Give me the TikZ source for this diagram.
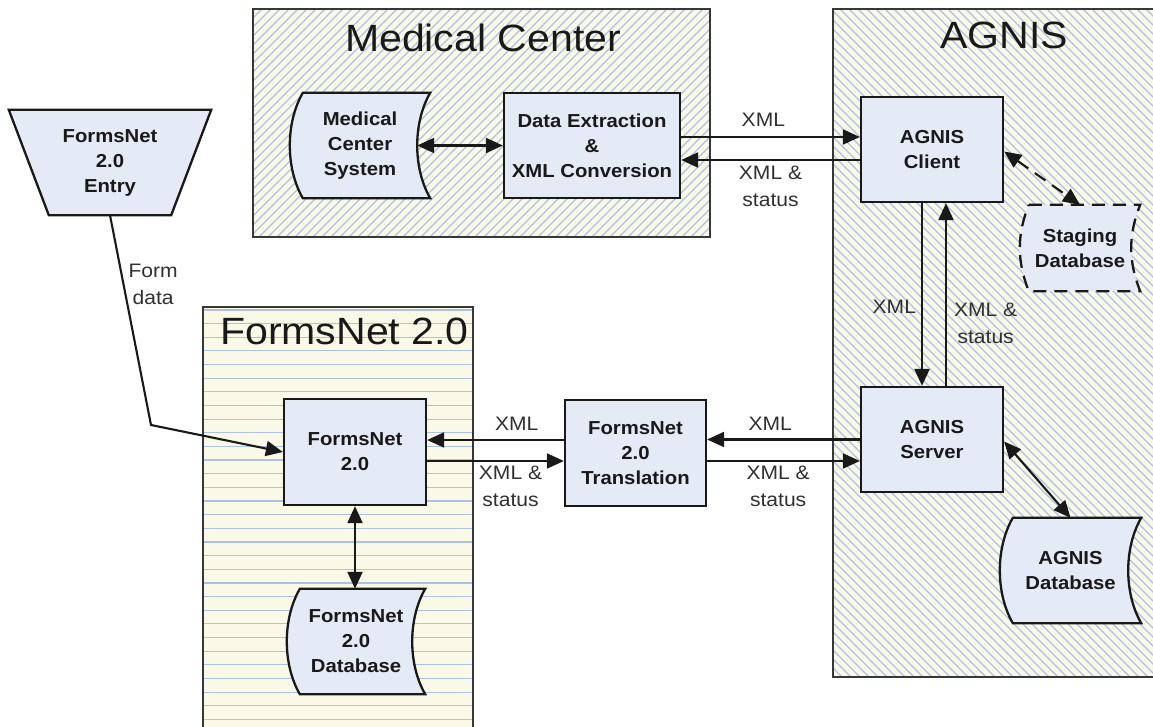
\documentclass[tikz,border=0pt]{standalone}
\usepackage{fontspec}
\setmainfont{Liberation Sans}[FakeStretch=1.08]
\usetikzlibrary{arrows.meta,calc}
\pgfdeclarelayer{back}
\pgfdeclarelayer{mid}
\pgfsetlayers{back,mid,main}
\definecolor{cream}{RGB}{250,249,232}
\definecolor{hatch}{RGB}{172,194,228}
\definecolor{nodefill}{RGB}{228,234,246}
\definecolor{ink}{RGB}{25,25,25}
\definecolor{framecol}{RGB}{55,55,55}
\tikzset{
  box/.style={draw=ink, line width=2.3pt, fill=nodefill, text=ink, font=\bfseries\fontsize{18.8}{25}\selectfont, align=center, inner sep=0pt},
  sdtext/.style={draw=none, text=ink, font=\bfseries\fontsize{18.8}{25}\selectfont, align=center, inner sep=0pt},
  sdline/.style={draw=ink, line width=2.3pt, fill=nodefill},
  conn/.style={draw=ink, line width=2.1pt, -{Triangle[length=17pt,width=15pt]}},
  both/.style={draw=ink, line width=2.1pt, {Triangle[length=17pt,width=15pt]}-{Triangle[length=17pt,width=15pt]}},
  lbl/.style={text=ink!90, font=\fontsize{19.5}{27}\selectfont, align=center, inner sep=0pt},
  ttl/.style={text=ink, font=\fontsize{38}{42}\selectfont, inner sep=0pt},
  frame/.style={draw=framecol, line width=1.4pt},
  hl/.style={draw=hatch, line width=1.2pt},
}
\newcommand\sdshape[3]{%
  \begin{pgfonlayer}{mid}
  \path[sdline,#1] ($(#2.north west)+(#3,0)$) -- (#2.north east)
    .. controls ($(#2.north east)+({-4*#3/3},30)$) and ($(#2.south east)+({-4*#3/3},-30)$) .. (#2.south east)
    -- ($(#2.south west)+(#3,0)$)
    .. controls ($(#2.south west)+({-#3/3},-30)$) and ($(#2.north west)+({-#3/3},30)$) .. cycle;
  \end{pgfonlayer}}
\begin{document}
\begin{tikzpicture}[x=1pt,y=-1pt]
\useasboundingbox (0,0) rectangle (1153,727);
\begin{pgfonlayer}{back}
\fill[white] (0,0) rectangle (1153,727);
% Medical Center container
\fill[cream] (253,9) rectangle (710,237);
\begin{scope}
  \clip (253,9) rectangle (710,237);
  \foreach \k in {0,...,78} \draw[hl] ({25+\k*9},237) -- ++(228,-228);
\end{scope}
\draw[frame] (253,9) rectangle (710,237);
% AGNIS container
\fill[cream] (833,9) rectangle (1153,677);
\begin{scope}
  \clip (833,9) rectangle (1153,677);
  \foreach \k in {0,...,111} \draw[hl] ({165+\k*9},9) -- ++(668,668);
\end{scope}
\draw[frame] (1153,9) -- (833,9) -- (833,677) -- (1153,677);
% FormsNet container
\fill[cream] (203,307) rectangle (473,727);
\begin{scope}
  \clip (203,307) rectangle (473,727);
  \foreach \k in {0,...,31} \draw[hl] (203,{309.9+\k*13.65}) -- (473,{309.9+\k*13.65});
\end{scope}
\draw[frame] (203,727) -- (203,307) -- (473,307) -- (473,727);
\end{pgfonlayer}

% titles
\node[ttl] (tmc) at (483,37.5) {Medical Center};
\node[ttl] (tag) at (1004,35.5) {AGNIS};
\node[ttl, anchor=west] (tfn) at (220,331.5) {FormsNet 2.0};

% nodes
\node[sdtext, minimum width=140pt, minimum height=105pt] (mcs) at (360,145.5) {Medical\\Center\\System};
\node[box, minimum width=176pt, minimum height=105pt] (dx) at (592,145.5) {Data Extraction\\\&\\XML Conversion};
\node[box, minimum width=142pt, minimum height=105pt] (client) at (932,149.5) {AGNIS\\Client};
\node[sdtext, minimum width=120pt, minimum height=86pt] (stag) at (1080,248) {Staging\\Database};
\node[box, minimum width=142pt, minimum height=105pt] (server) at (932,439.5) {AGNIS\\Server};
\node[sdtext, minimum width=141pt, minimum height=105pt] (adb) at (1070.5,570.5) {AGNIS\\Database};
\node[box, minimum width=141pt, minimum height=106pt] (tr) at (635.5,453) {FormsNet\\2.0\\Translation};
\node[box, minimum width=142pt, minimum height=106pt] (fn) at (355,452) {FormsNet\\2.0};
\node[sdtext, minimum width=138pt, minimum height=105pt] (fndb) at (356,641.5) {FormsNet\\2.0\\Database};
\node[sdtext, minimum width=202pt, minimum height=105pt] (entry) at (110,162.5) {FormsNet\\2.0\\Entry};

% shapes behind text
\sdshape{}{mcs}{13}
\sdshape{dashed, dash pattern=on 13pt off 8pt}{stag}{9}
\sdshape{}{adb}{13}
\sdshape{}{fndb}{13}
\begin{pgfonlayer}{mid}
\path[sdline] (entry.north west) -- (entry.north east) -- ($(entry.south east)+(-40,0)$) -- ($(entry.south west)+(40,0)$) -- cycle;
\end{pgfonlayer}

% connectors
\draw[both] ([xshift=-13pt]mcs.east) -- (dx.west);
\draw[conn] ([yshift=8.5pt]dx.east) -- node[lbl, above=9pt, pos=0.46] (l1) {XML} ([yshift=8.5pt]dx.east -| client.west);
\draw[conn] ([yshift=-14.5pt]dx.east -| client.west) -- node[lbl, below=5pt, pos=0.5] (l2) {XML \&\\status} ([yshift=-14.5pt]dx.east);
\draw[both, dash pattern=on 13pt off 8pt] ([yshift=-2pt]client.east) -- (stag.north);
\draw[conn] ([xshift=-10pt]client.south) -- node[lbl, left=5pt, pos=0.57] (l3) {XML} ([xshift=-10pt]client.south |- server.north);
\draw[conn] ([xshift=14pt]server.north) -- node[lbl, right=7pt, pos=0.34] (l4) {XML \&\\status} ([xshift=14pt]server.north |- client.south);
\draw[conn] (server.west) -- node[lbl, above=8pt, pos=0.587] (l5) {XML} (server.west -| tr.east);
\draw[conn] ([yshift=-21.5pt]server.west -| tr.east) -- node[lbl, below=4pt, pos=0.465] (l6) {XML \&\\status} ([yshift=-21.5pt]server.west);
\draw[conn] ([yshift=13pt]tr.west) -- node[lbl, above=8pt, pos=0.345] (l7) {XML} ([yshift=13pt]tr.west -| fn.east);
\draw[conn] ([yshift=-8pt]tr.west -| fn.east) -- node[lbl, below=4pt, pos=0.61] (l8) {XML \&\\status} ([yshift=-8pt]tr.west);
\draw[both] (fn.south) -- (fn.south |- fndb.north);
\draw[both] ([yshift=-2pt]server.east) -- (adb.north);
\coordinate (bend) at (151,425);
\draw[conn] (entry.south) -- node[lbl, right=4pt, pos=0.33] (l9) {Form\\data} (bend) -- (fn.west);
\end{tikzpicture}
\end{document}
